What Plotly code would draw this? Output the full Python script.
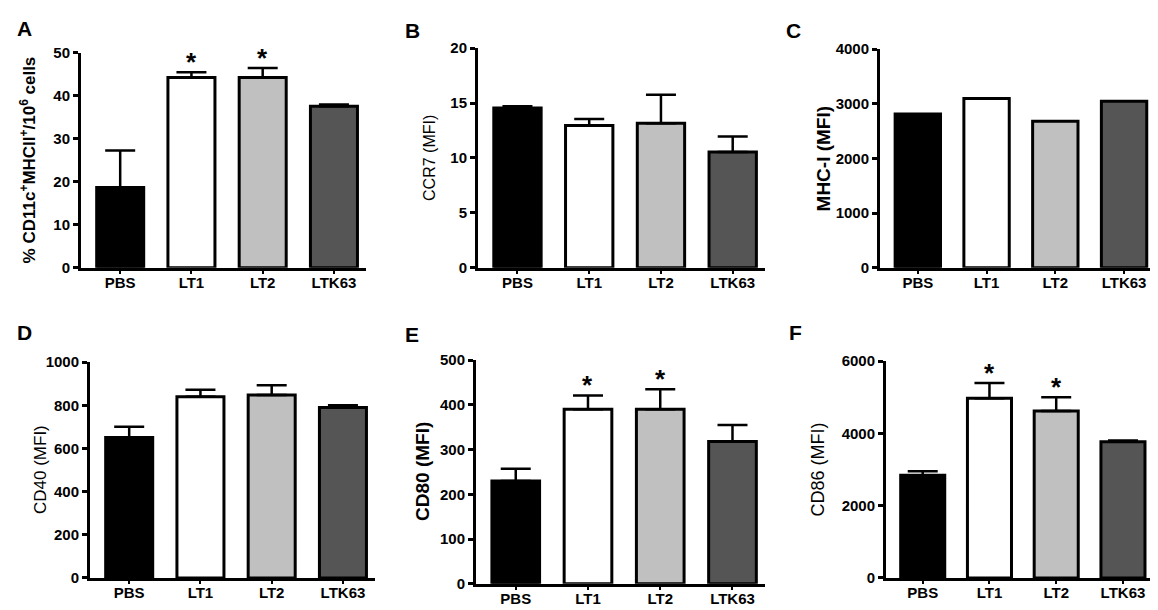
import plotly.graph_objects as go

# groups and bar colours
groups = ["PBS", "LT1", "LT2", "LTK63"]
colors = ["#000000", "#ffffff", "#c0c0c0", "#555555"]

# panel A-F values (mean) and upper error (SEM)
a_mean = [18.7, 44.3, 44.3, 37.6]
a_err = [8.6, 1.2, 2.2, 0.4]
b_mean = [14.55, 12.95, 13.15, 10.55]
b_err = [0.15, 0.6, 2.6, 1.4]
c_mean = [2815, 3095, 2680, 3045]
c_err = [0, 0, 0, 0]
d_mean = [651, 839, 848, 790]
d_err = [50, 33, 45, 10]
e_mean = [230, 390, 390, 318]
e_err = [27, 31, 45, 37]
f_mean = [2840, 4975, 4620, 3770]
f_err = [110, 420, 380, 35]

# significance stars
a_star = ["", "*", "*", ""]
e_star = ["", "*", "*", ""]
f_star = ["", "*", "*", ""]

y_titles = ["% CD11c<sup>+</sup>MHCII<sup>+</sup>/10<sup>6</sup> cells", "CCR7 (MFI)",
            "MHC-I (MFI)", "CD40 (MFI)", "CD80 (MFI)", "CD86 (MFI)"]
y_max = [50, 20, 4000, 1000, 500, 6000]
y_dtick = [10, 5, 1000, 200, 100, 2000]
letters = ["A", "B", "C", "D", "E", "F"]

W, H = 1158, 610
# plot boxes in pixels: x0, x1, ytop, ybottom
boxes = [(73, 358, 37, 258), (470, 757, 32, 258), (872, 1147, 33, 258),
         (82, 367, 355, 577), (468, 757, 353, 583), (878, 1145, 354, 577)]
title_x = [20, 422, 815, 32, 415, 810]
title_size = [17, 16, 19, 17, 19, 18]
title_bold = [True, False, True, False, True, False]
letter_pos = [(16, 12), (404, 14), (785, 14), (16, 325), (404, 327), (787, 325)]

means = [a_mean, b_mean, c_mean, d_mean, e_mean, f_mean]
errs = [a_err, b_err, c_err, d_err, e_err, f_err]
stars = [a_star, None, None, None, e_star, f_star]

fig = go.Figure()
annotations = []

for i in range(6):
    n = "" if i == 0 else str(i + 1)
    x0, x1, yt, yb = boxes[i]
    fig.add_trace(go.Bar(
        x=groups, y=means[i], width=0.66,
        marker=dict(color=colors, line=dict(color="black", width=3)),
        error_y=dict(type="data", array=errs[i], arrayminus=[0] * 4, symmetric=False,
                     color="black", thickness=2.5, width=15, visible=any(errs[i])),
        xaxis="x" + n, yaxis="y" + n, showlegend=False,
    ))
    fig.layout["xaxis" + n] = dict(
        domain=[x0 / W, x1 / W], anchor="y" + n, range=[-0.55, 3.45],
        showline=True, linewidth=3, linecolor="black", ticks="outside",
        ticklen=3, tickwidth=2, tickcolor="black", showgrid=False,
        ticklabelstandoff=-4,
        tickfont=dict(family="Liberation Sans", size=15, color="black", weight="bold"),
    )
    fig.layout["yaxis" + n] = dict(
        domain=[1 - yb / H, 1 - yt / H], anchor="x" + n, range=[0, y_max[i]],
        dtick=y_dtick[i], showline=True, linewidth=3, linecolor="black",
        ticks="outside", ticklen=5, tickwidth=3, tickcolor="black", showgrid=False,
        zeroline=False,
        tickfont=dict(family="Liberation Sans", size=15, color="black", weight="bold"),
    )
    annotations.append(dict(
        text=y_titles[i], xref="paper", yref="paper", x=title_x[i] / W,
        y=1 - (yt + yb) / 2 / H, textangle=-90, showarrow=False,
        xanchor="center", yanchor="middle",
        font=dict(family="Liberation Sans", size=title_size[i], color="black",
                  weight="bold" if title_bold[i] else "normal"),
    ))
    lx, ly = letter_pos[i]
    annotations.append(dict(
        text=letters[i], xref="paper", yref="paper", x=lx / W, y=1 - ly / H,
        showarrow=False, xanchor="center", yanchor="middle",
        font=dict(family="Liberation Sans", size=21, color="black", weight="bold"),
    ))
    if stars[i]:
        for g, s, m, e in zip(groups, stars[i], means[i], errs[i]):
            if s:
                annotations.append(dict(
                    text=s, x=g, y=m + e, xref="x" + n, yref="y" + n,
                    showarrow=False, yanchor="bottom", yshift=-7,
                    font=dict(family="Liberation Sans", size=26, color="black", weight="bold"),
                ))

fig.update_layout(
    width=W, height=H, margin=dict(l=0, r=0, t=0, b=0),
    plot_bgcolor="white", paper_bgcolor="white",
    annotations=annotations, bargap=0.3,
)

fig.write_html("out.html")
